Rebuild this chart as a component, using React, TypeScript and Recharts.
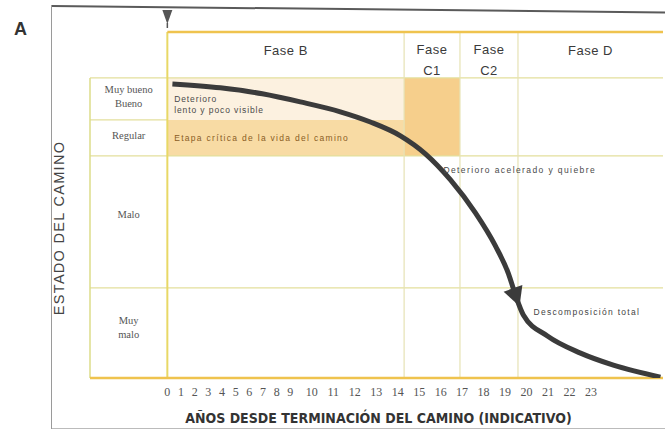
import React from 'react';
import { ComposedChart, Line, XAxis, YAxis, ReferenceArea, ReferenceLine, ReferenceDot, Label } from 'recharts';

// years printed under the table (0-9 sit closer together in the original)
const years = [0, 1, 2, 3, 4, 5, 6, 7, 8, 9, 10, 11, 12, 13, 14, 15, 16, 17, 18, 19, 20, 21, 22, 23];

const phaseNames = ['Fase B', 'Fase C1', 'Fase C2', 'Fase D'];
const phaseEdges = [0, 14.3, 16.9, 19.6, 26.35]; // years

const rowNames = ['Muy bueno\nBueno', 'Regular', 'Malo', 'Muy\nmalo'];
const rowEdges = [100, 86, 74, 30, 0]; // condition score, top to bottom

// deterioration curve
const curveYears = [0.37, 3.88, 6.95, 9.47, 11.33, 12.73, 14.13, 15.29, 16.46, 17.62, 18.55, 19.16, 19.48, 19.85, 20.97, 22.51, 24.04, 26.23];
const curveCondition = [98, 96.7, 94.7, 92, 88.7, 85.3, 80.7, 74.7, 66, 55, 44, 34.7, 27.7, 21, 14, 8.3, 4.3, 0.3];
const ARROW_AT = 12;

const HEADER_TOP = 115.3;
const LABEL_LEFT = -3.6;

// axis position of a year: first ten years are printed tighter
const axisPos = (y: number) => (y <= 9 ? y * 0.636 : 5.72 + (y - 9));

const curve = curveYears.map((y, i) => ({ x: axisPos(y), cond: curveCondition[i] }));
const xMax = axisPos(phaseEdges[phaseEdges.length - 1]);
const tickPos = years.map(axisPos);

const SANS = "'Liberation Sans', Arial, sans-serif";
const SERIF = "'Liberation Serif', 'Times New Roman', serif";
const GRID = '#e3df9c';
const BORDER = '#efc34e';

const multiLine = (lines: string[], cx: number, cy: number, lh: number, style: any) => (
  <text x={cx} textAnchor="middle" style={style}>
    {lines.map((l, i) => (
      <tspan key={i} x={cx} y={cy + (i - (lines.length - 1) / 2) * lh} dominantBaseline="central">{l}</tspan>
    ))}
  </text>
);

export default function App() {
  return (
    <div style={{ position: 'absolute', left: 0, top: 0, width: 665, height: 432, background: '#fff', overflow: 'hidden' }}>
      <div style={{ position: 'absolute', left: 52, top: 5, width: 620, height: 0, borderTop: '2px solid #5a5a5a', transform: 'rotate(0.6deg)', transformOrigin: 'left top' }} />
      <div style={{ position: 'absolute', left: 51, top: 5, width: 0, height: 424, borderLeft: '1.5px solid #9a9a9a' }} />
      <div style={{ position: 'absolute', left: 52, top: 428, width: 620, height: 0, borderTop: '1px solid #bbb' }} />
      <div style={{ position: 'absolute', left: 14, top: 19, fontFamily: SANS, fontWeight: 700, fontSize: 18, color: '#333' }}>A</div>

      <ComposedChart width={665} height={432} data={curve} margin={{ top: 32, right: 2, bottom: 0, left: 0 }} style={{ position: 'absolute', left: 0, top: 0 }}>
        <XAxis
          dataKey="x"
          type="number"
          domain={[LABEL_LEFT, xMax]}
          ticks={tickPos}
          interval={0}
          allowDataOverflow
          axisLine={false}
          tickLine={false}
          tickSize={0}
          tickMargin={9}
          height={54}
          tick={{ fontFamily: SERIF, fontSize: 12, fill: '#555' }}
          tickFormatter={(v: number) => String(years[tickPos.findIndex((t) => Math.abs(t - v) < 1e-6)])}
        >
          <Label
            content={({ viewBox }: any) => (
              <text x={viewBox.x + viewBox.width / 2 + 2} y={viewBox.y + 40} textAnchor="middle" dominantBaseline="central"
                style={{ fontFamily: "'Liberation Sans Narrow', 'DejaVu Sans Condensed', sans-serif", fontSize: 14, fontWeight: 700, fill: '#333' }}>
                AÑOS DESDE TERMINACIÓN DEL CAMINO (INDICATIVO)
              </text>
            )}
          />
        </XAxis>
        <YAxis type="number" domain={[0, HEADER_TOP]} width={90} tick={false} axisLine={false} tickLine={false} allowDataOverflow>
          <Label
            content={({ viewBox }: any) => {
              const cx = viewBox.x + viewBox.width - 31;
              const cy = viewBox.y + viewBox.height * (1 - 50 / HEADER_TOP);
              return (
                <text x={cx} y={cy} transform={`rotate(-90 ${cx} ${cy})`} textAnchor="middle" dominantBaseline="central"
                  style={{ fontFamily: SANS, fontSize: 14.5, letterSpacing: 1.3, fill: '#444' }}>
                  ESTADO DEL CAMINO
                </text>
              );
            }}
          />
        </YAxis>

        {/* shaded cells */}
        <ReferenceArea x1={axisPos(phaseEdges[0])} x2={axisPos(phaseEdges[1])} y1={rowEdges[1]} y2={rowEdges[0]} fill="#fcf1e0" fillOpacity={1} />
        <ReferenceArea x1={axisPos(phaseEdges[0])} x2={axisPos(phaseEdges[1])} y1={rowEdges[2]} y2={rowEdges[1]} fill="#f8dba4" fillOpacity={1} />
        <ReferenceArea x1={axisPos(phaseEdges[1])} x2={axisPos(phaseEdges[2])} y1={rowEdges[2]} y2={rowEdges[0]} fill="#f6cf8c" fillOpacity={1} />

        {/* row label column */}
        {rowNames.map((name, i) => (
          <ReferenceArea key={name} x1={LABEL_LEFT} x2={0} y1={rowEdges[i + 1]} y2={rowEdges[i]} fill="none" fillOpacity={0}
            label={{
              content: ({ viewBox }: any) =>
                multiLine(name.split('\n'), viewBox.x + viewBox.width / 2, viewBox.y + viewBox.height * 0.44, 14,
                  { fontFamily: SERIF, fontSize: 10.5, fill: '#555' }),
            }}
          />
        ))}

        {/* phase header */}
        {phaseNames.map((name, i) => {
          const lines = name.length > 6 ? name.split(' ') : [name];
          return (
            <ReferenceArea key={name} x1={axisPos(phaseEdges[i])} x2={axisPos(phaseEdges[i + 1])} y1={rowEdges[0]} y2={HEADER_TOP} fill="none" fillOpacity={0}
              label={{
                content: ({ viewBox }: any) =>
                  multiLine(lines, viewBox.x + viewBox.width / 2, viewBox.y + viewBox.height / 2 + (lines.length > 1 ? 5.5 : -4), 21,
                    { fontFamily: SANS, fontSize: 13, letterSpacing: 0.5, fill: '#3a3a3a' }),
              }}
            />
          );
        })}

        {/* grid */}
        <ReferenceLine segment={[{ x: LABEL_LEFT, y: rowEdges[0] }, { x: xMax, y: rowEdges[0] }]} stroke={GRID} strokeWidth={1.2} />
        <ReferenceLine segment={[{ x: LABEL_LEFT, y: rowEdges[1] }, { x: 0, y: rowEdges[1] }]} stroke={GRID} strokeWidth={1.2} />
        <ReferenceLine segment={[{ x: LABEL_LEFT, y: rowEdges[2] }, { x: xMax, y: rowEdges[2] }]} stroke={GRID} strokeWidth={1.2} />
        <ReferenceLine segment={[{ x: LABEL_LEFT, y: rowEdges[3] }, { x: xMax, y: rowEdges[3] }]} stroke={GRID} strokeWidth={1.2} />
        <ReferenceLine segment={[{ x: LABEL_LEFT, y: rowEdges[0] }, { x: LABEL_LEFT, y: rowEdges[4] }]} stroke="#dcdc8a" strokeWidth={1.5} />
        {phaseEdges.slice(1, 4).map((e) => (
          <ReferenceLine key={e} segment={[{ x: axisPos(e), y: 0 }, { x: axisPos(e), y: HEADER_TOP }]} stroke="#e6e2b4" strokeWidth={1.2} />
        ))}
        <ReferenceLine segment={[{ x: 0, y: 0 }, { x: 0, y: HEADER_TOP }]} stroke="#e8d866" strokeWidth={2} />
        <ReferenceLine segment={[{ x: 0, y: HEADER_TOP }, { x: xMax, y: HEADER_TOP }]} stroke={BORDER} strokeWidth={2.5} ifOverflow="visible" />
        <ReferenceLine segment={[{ x: LABEL_LEFT, y: 0 }, { x: xMax, y: 0 }]} stroke={BORDER} strokeWidth={2.5} ifOverflow="visible" />

        {/* notes */}
        <ReferenceDot x={axisPos(0.5)} y={91.5} r={0} fill="none" stroke="none"
          label={{
            content: ({ viewBox }: any) => (
              <text style={{ fontFamily: SANS, fontSize: 8.5, letterSpacing: 0.9, fill: '#4a4a4a' }}>
                <tspan x={viewBox.x} y={viewBox.y - 4} dominantBaseline="central">Deterioro</tspan>
                <tspan x={viewBox.x} y={viewBox.y + 7} dominantBaseline="central">lento y poco visible</tspan>
              </text>
            ),
          }}
        />
        <ReferenceDot x={axisPos(0.5)} y={80} r={0} fill="none" stroke="none">
          <Label position="right" offset={0} value="Etapa crítica de la vida del camino" style={{ fontFamily: SANS, fontSize: 8.5, letterSpacing: 1.3, fill: '#8a5d25' }} />
        </ReferenceDot>
        <ReferenceDot x={axisPos(16.13)} y={69.3} r={0} fill="none" stroke="none">
          <Label position="right" offset={0} value="Deterioro acelerado y quiebre" style={{ fontFamily: SANS, fontSize: 8.5, letterSpacing: 1.4, fill: '#4a4a4a' }} />
        </ReferenceDot>
        <ReferenceDot x={axisPos(20.32)} y={22} r={0} fill="none" stroke="none">
          <Label position="right" offset={0} value="Descomposición total" style={{ fontFamily: SANS, fontSize: 8.5, letterSpacing: 1.3, fill: '#444' }} />
        </ReferenceDot>

        {/* start marker */}
        <ReferenceDot x={0} y={HEADER_TOP} r={0} ifOverflow="visible"
          shape={(p: any) => (
            <g>
              <path d={`M${p.cx - 5},${p.cy - 22} L${p.cx + 5},${p.cy - 22} L${p.cx},${p.cy - 8} Z`} fill="#555" />
              <line x1={p.cx} y1={p.cy - 9} x2={p.cx} y2={p.cy - 4} stroke="#555" strokeWidth={1.5} />
            </g>
          )}
        />

        <Line
          dataKey="cond"
          type="monotone"
          stroke="#3b3b3b"
          strokeWidth={5}
          isAnimationActive={false}
          activeDot={false}
          dot={(p: any) =>
            p.index === ARROW_AT ? (
              <path key="arrow" d="M12,0 L-7,-10 L-7,10 Z" fill="#3b3b3b" transform={`translate(${p.cx},${p.cy}) rotate(70)`} />
            ) : (
              <g key={`d${p.index}`} />
            )
          }
        />
      </ComposedChart>
    </div>
  );
}
